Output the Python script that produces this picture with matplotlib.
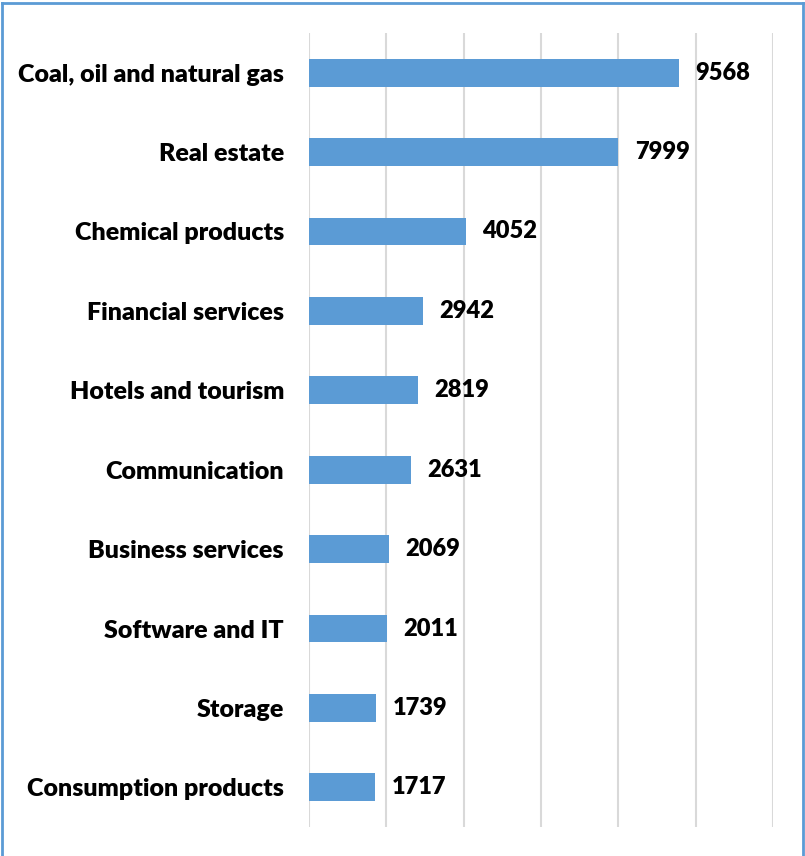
import matplotlib
matplotlib.use("Agg")
import matplotlib.pyplot as plt
from matplotlib.lines import Line2D

categories = [
    "Coal, oil and natural gas",
    "Real estate",
    "Chemical products",
    "Financial services",
    "Hotels and tourism",
    "Communication",
    "Business services",
    "Software and IT",
    "Storage",
    "Consumption products",
]
values = [9568, 7999, 4052, 2942, 2819, 2631, 2069, 2011, 1739, 1717]
x_ticks = [0, 2000, 4000, 6000, 8000, 10000, 12000]

W, H = 805, 856
fig = plt.figure(figsize=(W / 100, H / 100), dpi=100)
ax = fig.add_axes([309 / W, 1 - 827 / H, (773 - 309) / W, (827 - 33) / H])

bar_color = "#5B9BD5"
ypos = list(range(len(categories)))
ax.barh(ypos, values, height=0.35, color=bar_color, zorder=2)
ax.set_ylim(len(categories) - 0.5, -0.5)
ax.set_xlim(0, 12000)
ax.set_xticks(x_ticks)
ax.xaxis.grid(True, color="#D9D9D9", linewidth=1.5, zorder=0)
ax.tick_params(axis="x", which="both", length=0, labelbottom=False)
ax.tick_params(axis="y", length=0, pad=18)
ax.set_yticks(ypos)
ax.set_yticklabels(categories, fontsize=18, fontweight="heavy", family="Lato")
for s in ax.spines.values():
    s.set_visible(False)

for y, v in zip(ypos, values):
    ax.annotate(str(v), xy=(v, y), xytext=(12, 0), textcoords="offset points",
                ha="left", va="center", fontsize=17, fontweight="heavy",
                family="Lato", color="black")

# outer frame: left, top and right edges
frame_kw = dict(transform=fig.transFigure, color=bar_color, linewidth=2)
fig.lines.append(Line2D([2 / W, 2 / W], [0, 1 - 3 / H], **frame_kw))
fig.lines.append(Line2D([2 / W, 803 / W], [1 - 3 / H, 1 - 3 / H], **frame_kw))
fig.lines.append(Line2D([803 / W, 803 / W], [0, 1 - 3 / H], **frame_kw))

fig.savefig("out.png", dpi=100)
